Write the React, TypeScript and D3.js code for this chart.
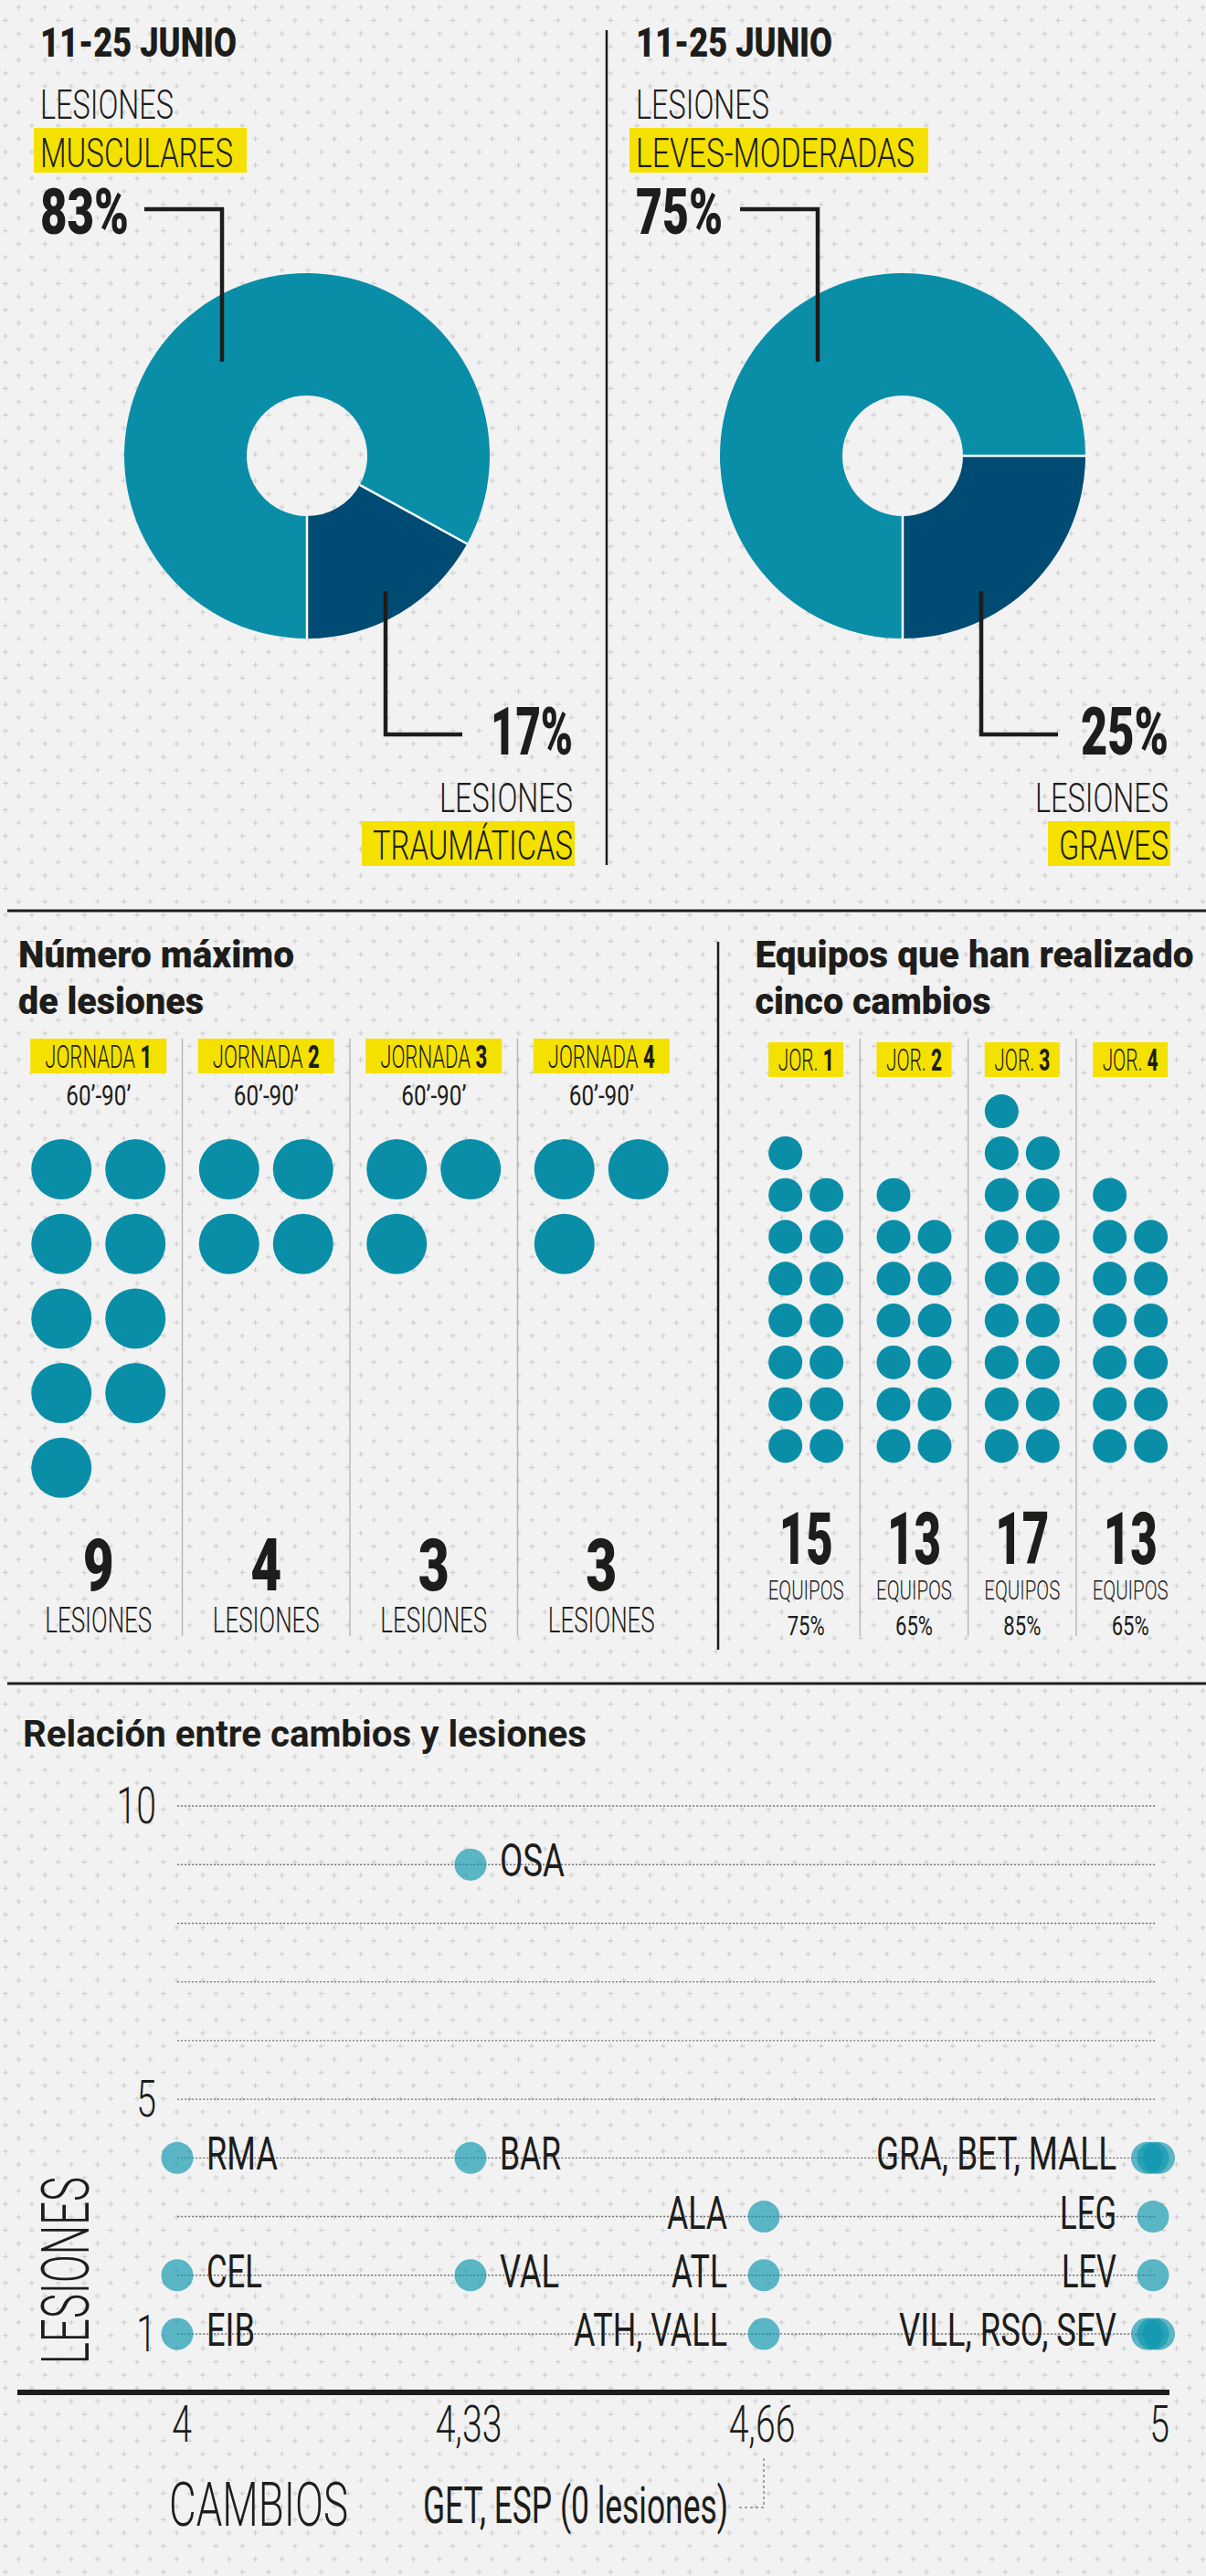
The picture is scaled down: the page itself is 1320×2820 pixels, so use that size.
import React from "react";
import * as d3 from "d3";

const W = 1320;
const H = 2820;
const FONT = "Roboto, 'Noto Sans', 'Liberation Sans', sans-serif";
const INK = "#1d1d1b";
const TEAL = "#0a8ea8";
const NAVY = "#004b73";
const YELLOW = "#f4e100";
const DOT = "#0f97af";

// ---------- data ----------
const periodLabel = "11-25 JUNIO";
const typeCategories = ["MUSCULARES", "TRAUMÁTICAS"];
const typeShares = [83, 17];
const severityCategories = ["LEVES-MODERADAS", "GRAVES"];
const severityShares = [75, 25];

const matchdays = [1, 2, 3, 4];
const maxInjuries = [9, 4, 3, 3];
const windowLabel = "60’-90’";
const fiveSubTeams = [15, 13, 17, 13];
const fiveSubShare = [75, 65, 85, 65];

const teamLabels = ["OSA", "RMA", "BAR", "GRA, BET, MALL", "ALA", "LEG", "CEL", "VAL", "ATL", "LEV", "EIB", "ATH, VALL", "VILL, RSO, SEV"];
const teamSubs = [4.33, 4, 4.33, 5, 4.66, 5, 4, 4.33, 4.66, 5, 4, 4.66, 5];
const teamInjuries = [9, 4, 4, 4, 3, 3, 2, 2, 2, 2, 1, 1, 1];
const teamMarkers = [1, 1, 1, 3, 1, 1, 1, 1, 1, 1, 1, 1, 3];
const subsTicks = [4, 4.33, 4.66, 5];
const subsTickLabels = ["4", "4,33", "4,66", "5"];
const injuryTicks = [10, 5, 1];
const noInjuryTeams = "GET, ESP (0 lesiones)";

// ---------- style helpers ----------
const labelWidths: Record<string, number> = {
  OSA: 71, RMA: 78, BAR: 67, "GRA, BET, MALL": 263, ALA: 66, LEG: 62, CEL: 61,
  VAL: 65, ATL: 61, LEV: 60, EIB: 53, "ATH, VALL": 168, "VILL, RSO, SEV": 238,
};

function T({ x, y, w, size, weight = 400, anchor = "start", fill = INK, children }: any) {
  return (
    <text x={x} y={y} fontSize={size} fontWeight={weight} fontFamily={FONT} fill={fill}
      textAnchor={anchor} textLength={w} lengthAdjust="spacingAndGlyphs">{children}</text>
  );
}

function C({ x, y, sx = 0.7, size, weight = 300, anchor = "start", children }: any) {
  return (
    <text transform={`translate(${x},${y}) scale(${sx},1)`} fontSize={size} fontWeight={weight}
      fontFamily={FONT} fill={INK} textAnchor={anchor}>{children}</text>
  );
}

function DonutPanel({ dx, values, cats, topCatW, bottomCatW, topPctW, bottomPctW }: any) {
  const cx = 336 + dx;
  const cy = 499;
  const pie = d3.pie<number>().sort(null).startAngle(Math.PI).endAngle(3 * Math.PI);
  const arc = d3.arc<d3.PieArcDatum<number>>().innerRadius(66).outerRadius(200);
  const arcs = pie(values);
  const tx = 44 + dx;
  const rightEdge = 627 + dx;
  return (
    <g>
      <T x={tx} y={62} w={215} size={45} weight={900}>{periodLabel}</T>
      <T x={tx} y={130} w={146} size={44} weight={300}>LESIONES</T>
      <rect x={tx - 7} y={140} width={topCatW + 22} height={49} fill={YELLOW} />
      <T x={tx} y={183} w={topCatW} size={45} weight={300}>{cats[0]}</T>
      <T x={tx} y={256} w={topPctW} size={70} weight={900}>{values[0]}%</T>
      <g transform={`translate(${cx},${cy})`}>
        {arcs.map((a, i) => (
          <path key={i} d={arc(a) as string} fill={i === 0 ? TEAL : NAVY} />
        ))}
        {arcs.map((a, i) => (
          <line key={"s" + i} x1={66 * Math.sin(a.startAngle)} y1={-66 * Math.cos(a.startAngle)}
            x2={200 * Math.sin(a.startAngle)} y2={-200 * Math.cos(a.startAngle)} stroke="#fff" strokeWidth={2.5} />
        ))}
      </g>
      <path d={`M${cx - 178},229 H${cx - 93} V396`} fill="none" stroke={INK} strokeWidth={4.5} />
      <path d={`M${cx + 86},647 V804 H${cx + 170}`} fill="none" stroke={INK} strokeWidth={4.5} />
      <T x={rightEdge} y={826} w={bottomPctW} size={73} weight={900} anchor="end">{values[1]}%</T>
      <T x={rightEdge} y={889} w={146} size={44} weight={300} anchor="end">LESIONES</T>
      <rect x={rightEdge - bottomCatW - 12} y={899} width={bottomCatW + 14} height={49} fill={YELLOW} />
      <T x={rightEdge} y={941} w={bottomCatW} size={45} weight={300} anchor="end">{cats[1]}</T>
    </g>
  );
}

function Tag({ x, y, w, size, word, num }: any) {
  return (
    <text x={x} y={y} fontSize={size} fontWeight={300} fontFamily={FONT} fill={INK}
      textAnchor="middle" textLength={w} lengthAdjust="spacingAndGlyphs">
      {word} <tspan fontWeight={800}>{num}</tspan>
    </text>
  );
}

export default function App() {
  // middle section scales
  const bandL = d3.scaleBand<number>().domain(matchdays).range([16, 750]);
  const bandR = d3.scaleBand<number>().domain(matchdays).range([823, 1296.3]);
  const cL = (d: number) => (bandL(d) as number) + bandL.bandwidth() / 2;
  const cR = (d: number) => (bandR(d) as number) + bandR.bandwidth() / 2;

  // scatter scales
  const x = d3.scaleLinear().domain(subsTicks).range([194, 515, 836, 1262]);
  const y = d3.scaleLinear().domain([1, 10]).range([2555, 1977]);
  const gridValues = d3.range(1, 11);

  return (
    <div style={{ position: "absolute", left: 0, top: 0, width: W, height: H }}>
      <svg width={W} height={H} style={{ display: "block" }}>
        <defs>
          <pattern id="bgp" width={28.8} height={28.8} patternUnits="userSpaceOnUse">
            <rect width={28.8} height={28.8} fill="#f2f2f2" />
            <path d="M3,22.3 h6 M6,19.3 v6 M17.4,7.9 h6 M20.4,4.9 v6" stroke="#cacaca" strokeWidth={1} />
          </pattern>
        </defs>
        <rect width={W} height={H} fill="url(#bgp)" />

        {/* ---------- top donuts ---------- */}
        <DonutPanel dx={0} values={typeShares} cats={typeCategories} topCatW={211} bottomCatW={219} topPctW={97} bottomPctW={90} />
        <DonutPanel dx={652} values={severityShares} cats={severityCategories} topCatW={305} bottomCatW={120} topPctW={95} bottomPctW={96} />
        <line x1={664} y1={33} x2={664} y2={947} stroke={INK} strokeWidth={2.5} />
        <line x1={8} y1={997} x2={W} y2={997} stroke={INK} strokeWidth={3} />

        {/* ---------- middle: max injuries ---------- */}
        <T x={20} y={1059} w={302} size={40} weight={900}>Número máximo</T>
        <T x={20} y={1110} w={203} size={40} weight={900}>de lesiones</T>
        {matchdays.slice(1).map((d) => (
          <line key={d} x1={bandL(d)} x2={bandL(d)} y1={1137} y2={1791} stroke="#b8b8b8" strokeWidth={1.5} />
        ))}
        {matchdays.map((d, i) => {
          const c = cL(d);
          const n = maxInjuries[i];
          return (
            <g key={d}>
              <rect x={c - 74.5} y={1137} width={149} height={38} fill={YELLOW} />
              <Tag x={c} y={1169} w={117} size={35} word="JORNADA" num={d} />
              <T x={c} y={1210} w={71} size={32} weight={400} anchor="middle">{windowLabel}</T>
              {d3.range(n).map((k) => (
                <circle key={k} cx={c + (k % 2 ? 40.5 : -40.5)} cy={1280 + Math.floor(k / 2) * 81.7} r={33} fill={TEAL} />
              ))}
              <T x={c} y={1741} w={34} size={80} weight={900} anchor="middle">{n}</T>
              <T x={c} y={1787} w={117} size={38} weight={300} anchor="middle">LESIONES</T>
            </g>
          );
        })}
        <line x1={786} y1={1031} x2={786} y2={1806} stroke={INK} strokeWidth={2.5} />

        {/* ---------- middle: five substitutions ---------- */}
        <T x={826.5} y={1059} w={480} size={40} weight={900}>Equipos que han realizado</T>
        <T x={826.5} y={1110} w={258} size={40} weight={900}>cinco cambios</T>
        {matchdays.slice(1).map((d) => (
          <line key={d} x1={bandR(d)} x2={bandR(d)} y1={1137} y2={1791} stroke="#b8b8b8" strokeWidth={1.5} />
        ))}
        {matchdays.map((d, i) => {
          const c = cR(d);
          const n = fiveSubTeams[i];
          return (
            <g key={d}>
              <rect x={c - 41} y={1141} width={82} height={38} fill={YELLOW} />
              <Tag x={c} y={1172} w={61} size={33} word="JOR." num={d} />
              {d3.range(n).map((k) => (
                <circle key={k} cx={c + (k % 2 ? 22.5 : -22.5)} cy={1583 - Math.floor(k / 2) * 45.8} r={18.5} fill={TEAL} />
              ))}
              <T x={c} y={1712} w={59} size={80} weight={900} anchor="middle">{n}</T>
              <T x={c} y={1751} w={83} size={30} weight={300} anchor="middle">EQUIPOS</T>
              <T x={c} y={1790} w={41} size={30} weight={400} anchor="middle">{fiveSubShare[i]}%</T>
            </g>
          );
        })}
        <line x1={8} y1={1843} x2={W} y2={1843} stroke={INK} strokeWidth={3} />

        {/* ---------- scatter ---------- */}
        <T x={25} y={1912} w={617} size={40} weight={700}>Relación entre cambios y lesiones</T>
        {gridValues.map((v) => (
          <line key={v} x1={x(4)} x2={1266} y1={y(v)} y2={y(v)} stroke="#7a7a7a" strokeWidth={1.4} strokeDasharray="2.2 1.8" />
        ))}
        {injuryTicks.map((v) => (
          <C key={v} x={171} y={y(v) + 19} size={56} anchor="end" sx={0.7}>{v}</C>
        ))}
        {teamLabels.map((lab, i) => {
          const px = x(teamSubs[i]);
          const py = y(teamInjuries[i]);
          const m = teamMarkers[i];
          return (
            <g key={lab}>
              {d3.range(m).map((k) => (
                <circle key={k} cx={px + (k - (m - 1) / 2) * 6.5} cy={py} r={17.5} fill={DOT} fillOpacity={0.67} />
              ))}
              {teamSubs[i] < 4.5 ? (
                <T x={px + 32} y={py + 13} w={labelWidths[lab]} size={50} weight={400}>{lab}</T>
              ) : (
                <T x={px - 40} y={py + 13} w={labelWidths[lab]} size={50} weight={400} anchor="end">{lab}</T>
              )}
            </g>
          );
        })}
        <line x1={19} x2={1280} y1={2619} y2={2619} stroke={INK} strokeWidth={6} />
        {subsTicks.map((v, i) => (
          <C key={v} x={x(v) + (i === 0 ? 5 : i === subsTicks.length - 1 ? 7 : -2)} y={2673} size={56} anchor="middle" sx={0.7}>{subsTickLabels[i]}</C>
        ))}
        <text transform="translate(97,2588) rotate(-90)" fontSize={72} fontWeight={300} fontFamily={FONT} fill={INK}
          textLength={205} lengthAdjust="spacingAndGlyphs">LESIONES</text>
        <T x={185} y={2765} w={196} size={67} weight={300}>CAMBIOS</T>
        <T x={463} y={2762} w={334} size={55} weight={400}>{noInjuryTeams}</T>
        <path d={`M809,2745 H${x(4.66)} V2690`} fill="none" stroke="#888" strokeWidth={1.5} strokeDasharray="3 3" />
      </svg>
    </div>
  );
}
